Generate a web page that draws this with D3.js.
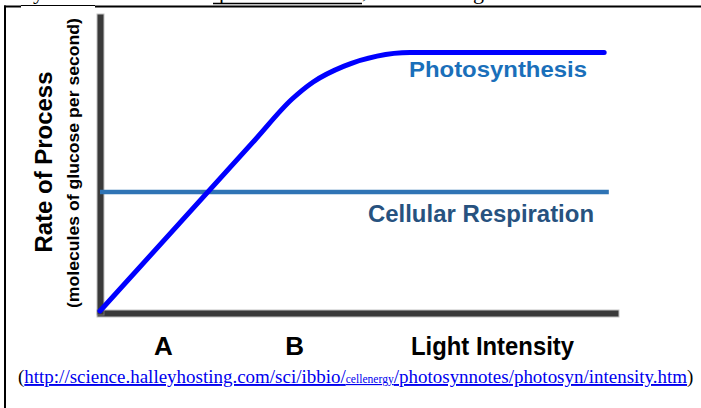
<!DOCTYPE html>
<html><head><meta charset="utf-8">
<script src="https://cdn.jsdelivr.net/npm/d3@7"></script>
<style>
html,body{margin:0;padding:0;background:#fff;}
svg{display:block;}
</style></head>
<body>
<script>
// ---- data (arbitrary units) ----
const photoX = [0, 30.0, 37.3, 41.4, 47.4, 53.8, 60.2, 97.9];
const photoY = [0, 58.0, 72.1, 77.9, 83.3, 86.7, 87.9, 87.9];
const respX = [0, 98.8];
const respY = [40.5, 40.5];
const tickLabels = ["A", "B"];
const tickValues = [12.2, 37.7];
const xTitle = "Light Intensity";
const yTitle = "Rate of Process";
const ySubTitle = "(molecules of glucose per second)";
const seriesNames = ["Photosynthesis", "Cellular Respiration"];

const W = 701, H = 408;
const svg = d3.select("body").append("svg").attr("width", W).attr("height", H);

// page frame & cut-off text line from the source document
const frame = svg.append("g");
frame.append("line").attr("x1", 5).attr("x2", 5).attr("y1", 5.5).attr("y2", H).attr("stroke", "#000").attr("stroke-width", 2);
frame.append("line").attr("x1", 4).attr("x2", 21).attr("y1", 6.5).attr("y2", 6.5).attr("stroke", "#000").attr("stroke-width", 2);
frame.append("line").attr("x1", 21).attr("x2", 95).attr("y1", 5.5).attr("y2", 5.5).attr("stroke", "#000").attr("stroke-width", 1.2);
frame.append("line").attr("x1", 95).attr("x2", W).attr("y1", 6.5).attr("y2", 6.5).attr("stroke", "#000").attr("stroke-width", 2);
const topTxt = frame.append("g").attr("font-family", "Liberation Serif, Times New Roman, serif").attr("font-size", 22).attr("fill", "#000");
topTxt.append("text").attr("x", 33).attr("y", -1.5).text("y");
topTxt.append("text").attr("x", 219).attr("y", -1.5).text("p");
topTxt.append("text").attr("x", 362).attr("y", -2).text(",");
topTxt.append("text").attr("x", 473).attr("y", -1.5).text("g");
frame.append("line").attr("x1", 213).attr("x2", 362).attr("y1", 3.5).attr("y2", 3.5).attr("stroke", "#000").attr("stroke-width", 1.6);

// scales
const x = d3.scaleLinear().domain([0, 100]).range([100, 615]);
const y = d3.scaleLinear().domain([0, 100]).range([311, 17]);

// axes (no ticks)
const axisColor = "#3a3a3a";
const gx = svg.append("g").attr("transform", "translate(0,313)")
  .call(d3.axisBottom(x).tickValues([]).tickSizeOuter(0));
const gy = svg.append("g").attr("transform", "translate(100,0)")
  .call(d3.axisLeft(y).tickValues([]).tickSizeOuter(0));
[gx, gy].forEach(g => {
  g.select(".domain").clone(true).lower()
    .attr("stroke", "#9a9a9a").attr("stroke-width", 8).attr("stroke-linecap", "square").attr("opacity", 0.6);
  g.selectAll(".domain").filter((d, i) => i === 1)
    .attr("stroke", axisColor).attr("stroke-width", 6).attr("stroke-linecap", "square");
});

// category labels on x axis
const gl = svg.append("g").attr("transform", "translate(0,313)")
  .call(d3.axisBottom(x).tickValues(tickValues).tickFormat((d, i) => tickLabels[i]).tickSize(0).tickSizeOuter(0));
gl.select(".domain").remove();
gl.selectAll("text").attr("y", 42).attr("dy", 0)
  .attr("font-family", "Liberation Sans, Arial, sans-serif").attr("font-weight", "bold")
  .attr("font-size", 26).attr("fill", "#000");

const boldFont = "Liberation Sans, Arial, Helvetica, sans-serif";
svg.append("text").attr("x", 411).attr("y", 355)
  .attr("font-family", boldFont).attr("font-weight", "bold").attr("font-size", 26)
  .attr("textLength", 163).attr("lengthAdjust", "spacingAndGlyphs").attr("fill", "#000").text(xTitle);

// y titles
svg.append("text").attr("transform", "translate(52,162) rotate(-90)").attr("text-anchor", "middle")
  .attr("font-family", boldFont).attr("font-weight", "bold").attr("font-size", 24)
  .attr("textLength", 181).attr("lengthAdjust", "spacingAndGlyphs").attr("fill", "#000").text(yTitle);
svg.append("text").attr("transform", "translate(79,163) rotate(-90)").attr("text-anchor", "middle")
  .attr("font-family", boldFont).attr("font-weight", "bold").attr("font-size", 17)
  .attr("textLength", 290).attr("lengthAdjust", "spacingAndGlyphs").attr("fill", "#000").text(ySubTitle);

// respiration line
const line = d3.line().x(d => x(d[0])).y(d => y(d[1]));
svg.append("path").datum(d3.zip(respX, respY)).attr("d", line)
  .attr("fill", "none").attr("stroke", "#2f74b5").attr("stroke-width", 4.5);

// photosynthesis curve
const curve = d3.line().x(d => x(d[0])).y(d => y(d[1])).curve(d3.curveMonotoneX);
svg.append("path").datum(d3.zip(photoX, photoY)).attr("d", curve)
  .attr("fill", "none").attr("stroke", "#0000ff").attr("stroke-width", 5).attr("stroke-linecap", "round");

// series labels
svg.append("text").attr("x", 409).attr("y", 77)
  .attr("font-family", boldFont).attr("font-weight", "bold").attr("font-size", 22)
  .attr("textLength", 178).attr("lengthAdjust", "spacingAndGlyphs").attr("fill", "#1a6fba").text(seriesNames[0]);
svg.append("text").attr("x", 368).attr("y", 222)
  .attr("font-family", boldFont).attr("font-weight", "bold").attr("font-size", 23)
  .attr("textLength", 226).attr("lengthAdjust", "spacingAndGlyphs").attr("fill", "#27527f").text(seriesNames[1]);

// citation
const cite = svg.append("text").attr("x", 18).attr("y", 383)
  .attr("font-family", "Liberation Serif, Times New Roman, serif").attr("font-size", 18);
const parts = [
  {t: "(", c: "#000", s: 18, u: false},
  {t: "http://science.halleyhosting.com/sci/ibbio/", c: "#0000ee", s: 18, u: true},
  {t: "cellenergy", c: "#0000ee", s: 11, u: true},
  {t: "/photosynnotes/photosyn/intensity.htm", c: "#0000ee", s: 18, u: true},
  {t: ")", c: "#000", s: 18, u: false}
];
const tspans = cite.selectAll("tspan").data(parts).join("tspan")
  .attr("fill", d => d.c).attr("font-size", d => d.s)
  .style("text-decoration", d => d.u ? "underline" : "none").text(d => d.t);
const wNow = cite.node().getComputedTextLength();
const k = 676 / wNow;
tspans.attr("font-size", d => d.s * k);
</script>
</body></html>
